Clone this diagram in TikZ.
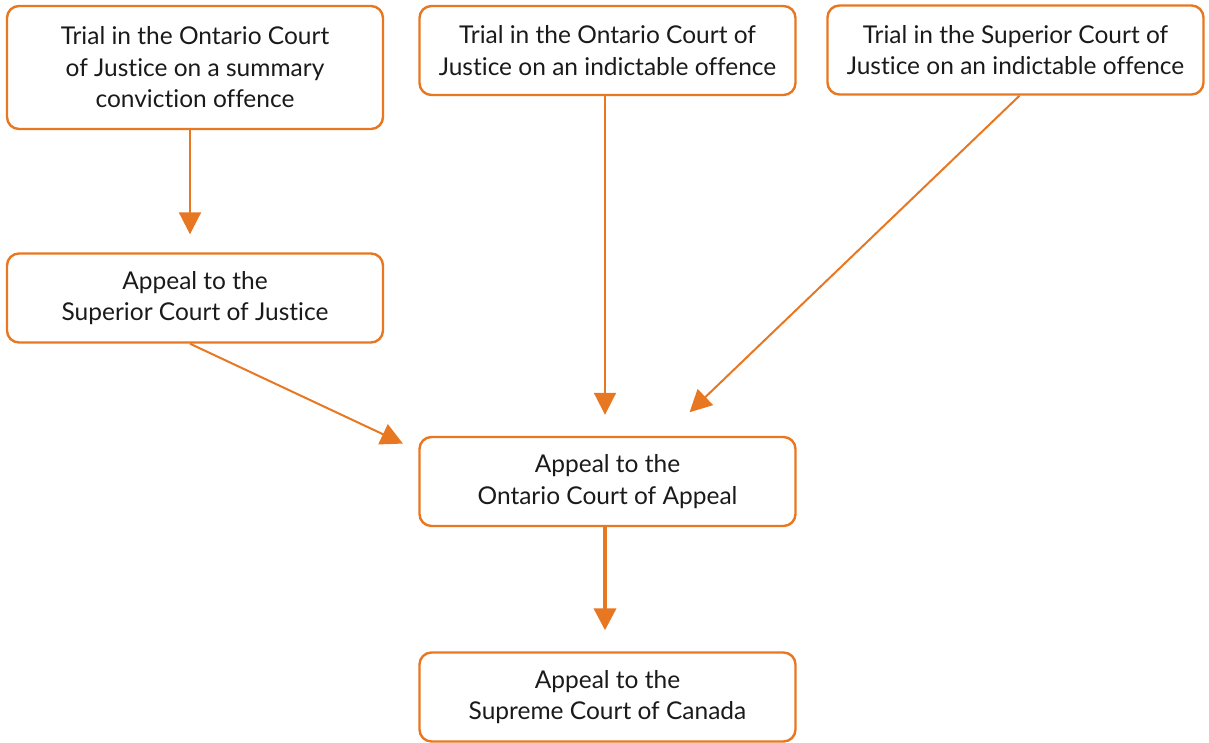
\documentclass[tikz,border=0pt]{standalone}
\usepackage{fontspec}
\setmainfont{Lato}[Ligatures=NoCommon]
\usetikzlibrary{arrows.meta}
\definecolor{courtorange}{HTML}{E87722}
\definecolor{courttext}{HTML}{1A1A1A}
\tikzset{
  courtbox/.style={draw=courtorange, line width=2.4pt, rounded corners=12pt,
    minimum width=376pt, minimum height=89pt, align=center,
    text=courttext, font=\fontsize{24.5}{31.5}\selectfont},
  appealarrow/.style={draw=courtorange, line width=2pt,
    -{Triangle[length=22pt,width=22pt]}, courtorange},
}
\begin{document}
\begin{tikzpicture}[x=1pt,y=-1pt]
  \useasboundingbox (0,0) rectangle (1209,743);
  % Trials
  \node[courtbox, minimum height=123pt] (sumtrial) at (195,67.5)
    {Trial in the Ontario Court\\of Justice on a summary\\conviction offence};
  \node[courtbox] (ocjtrial) at (607.5,50.5)
    {Trial in the Ontario Court of\\Justice on an indictable offence};
  \node[courtbox] (scjtrial) at (1015.5,50)
    {Trial in the Superior Court of\\Justice on an indictable offence};
  % Appeals
  \node[courtbox] (scjappeal) at (195,298)
    {Appeal to the\\Superior Court of Justice};
  \node[courtbox] (ocaappeal) at (607.5,481.5)
    {Appeal to the\\Ontario Court of Appeal};
  \node[courtbox] (sccappeal) at (607.5,697)
    {Appeal to the\\Supreme Court of Canada};
  % Arrows
  \draw[appealarrow, shorten >=18pt] ([xshift=-5pt]sumtrial.south) -- ([xshift=-5pt]scjappeal.north);
  \draw[appealarrow, shorten >=21pt] ([xshift=-2.5pt]ocjtrial.south) -- ([xshift=-2.5pt]ocaappeal.north);
  \draw[appealarrow, shorten >=34pt] ([xshift=4pt]scjtrial.south) -- ([xshift=57.5pt]ocaappeal.north);
  \draw[appealarrow, shorten >=17pt] ([xshift=-5pt]scjappeal.south) -- ([yshift=-15pt]ocaappeal.north west);
  \draw[appealarrow, line width=4pt, shorten >=21pt] ([xshift=-2.5pt]ocaappeal.south) -- ([xshift=-2.5pt]sccappeal.north);
\end{tikzpicture}
\end{document}
